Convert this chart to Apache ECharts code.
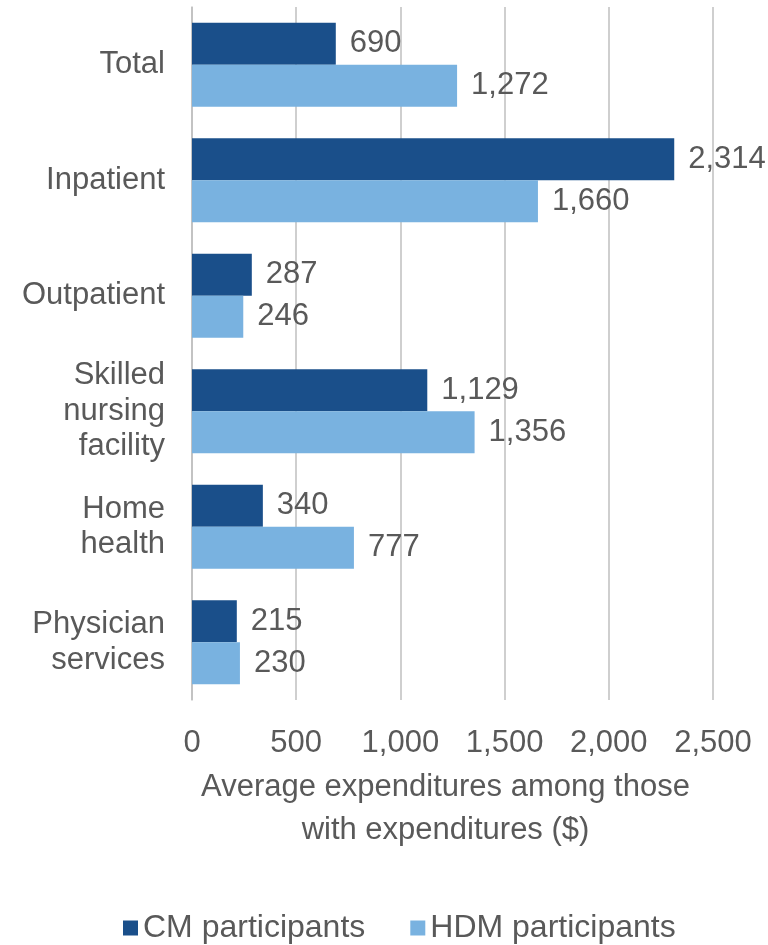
<!DOCTYPE html>
<html><head><meta charset="utf-8">
<script src="https://cdn.jsdelivr.net/npm/echarts@6/dist/echarts.min.js"></script>
<style>html,body{margin:0;padding:0;background:#fff}#c{width:768px;height:945px}</style>
</head><body><div id="c"></div>
<script>
const categories = ["Total", "Inpatient", "Outpatient", "Skilled\nnursing\nfacility", "Home\nhealth", "Physician\nservices"];
const cmValues = [690, 2314, 287, 1129, 340, 215];
const hdmValues = [1272, 1660, 246, 1356, 777, 230];
const seriesNames = ["CM participants", "HDM participants"];
const xTicks = [0, 500, 1000, 1500, 2000, 2500];

const chart = echarts.init(document.getElementById('c'), null, {renderer: 'canvas'});
const txt = '#595959';
const font = 'Liberation Sans, Arial, sans-serif';
const lbl = {show: true, position: 'right', distance: 14, color: txt, fontSize: 31, fontFamily: font,
  formatter: p => p.value.toLocaleString('en-US')};
chart.setOption({
  animation: false,
  textStyle: {fontFamily: font},
  grid: {left: 192, right: 55, top: 7, bottom: 245, containLabel: false},
  legend: {top: 907, left: 118, itemWidth: 15, itemHeight: 15, itemGap: 45,
    textStyle: {color: txt, fontSize: 32, fontFamily: font}, icon: 'rect', data: seriesNames},
  xAxis: {type: 'value', min: xTicks[0], max: xTicks[xTicks.length-1], interval: 500,
    axisLine: {show: false}, axisTick: {show: false},
    splitLine: {lineStyle: {color: '#bfbfbf', width: 1.5}},
    axisLabel: {color: txt, fontSize: 31, margin: 28, fontFamily: font, formatter: v => v.toLocaleString('en-US')},
    name: 'Average expenditures among those\nwith expenditures ($)', nameLocation: 'middle', nameGap: 66,
    nameTextStyle: {color: txt, fontSize: 31, lineHeight: 43, fontFamily: font, padding: [0,14,0,0]}},
  yAxis: {type: 'category', data: categories, inverse: true,
    axisLine: {show: true, lineStyle: {color: '#bfbfbf', width: 1.5}}, axisTick: {show: false},
    axisLabel: {color: txt, fontSize: 31, margin: 27, lineHeight: 35.5, align: 'right', fontFamily: font}},
  series: [
    {name: seriesNames[0], type: 'bar', data: cmValues, barWidth: 42, barGap: '0%',
      itemStyle: {color: '#1A4F8A'}, label: lbl},
    {name: seriesNames[1], type: 'bar', data: hdmValues, barWidth: 42,
      itemStyle: {color: '#79B2E0'}, label: lbl}
  ]
});
</script></body></html>
